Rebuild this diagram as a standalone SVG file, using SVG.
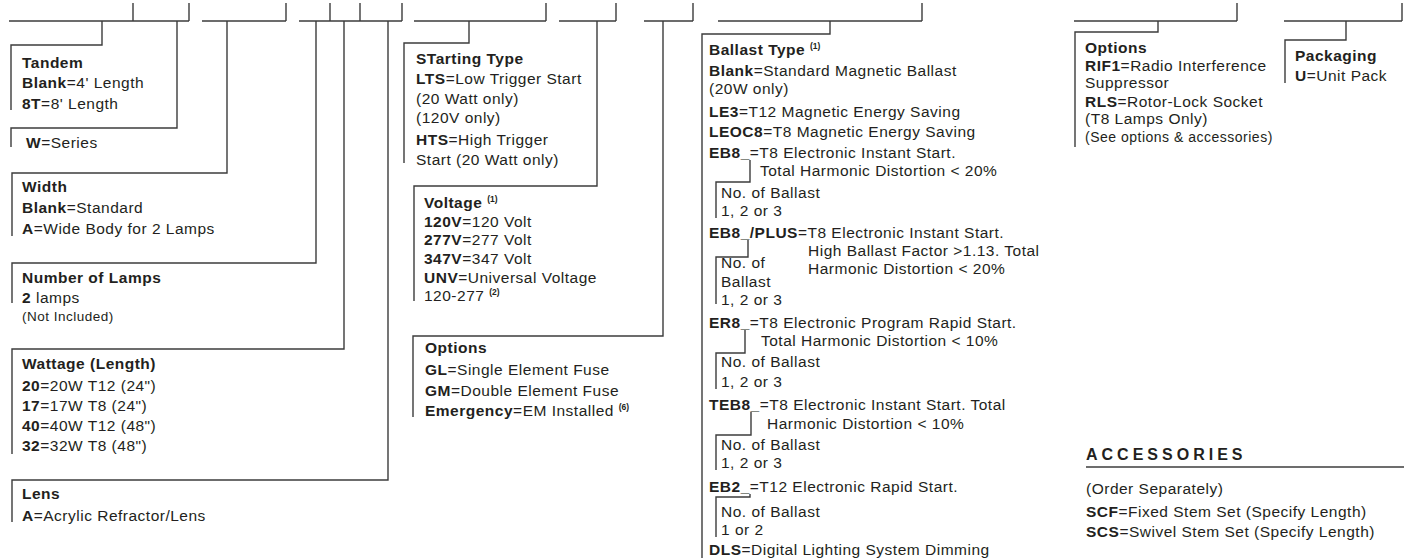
<svg xmlns="http://www.w3.org/2000/svg" width="1404" height="560" viewBox="0 0 1404 560">
<style>
.t{font-family:"Liberation Sans",Arial,Helvetica,sans-serif;font-size:15.5px;letter-spacing:0.5px;fill:#231f20}
.b{font-weight:bold}
.s{font-size:13.5px}
.sup{font-size:8.5px;font-weight:bold;letter-spacing:0}
.ln{fill:none;stroke:#3c3c3c;stroke-width:1.4}
.acc{font-size:16px;font-weight:bold;letter-spacing:4px}
</style>
<rect width="1404" height="560" fill="#ffffff"/>
<g id="connectors" class="ln">
<path d="M9,21 H189 M133,3 V21 M189,3 V21"/>
<path d="M102,21 V45 H11 V110"/>
<path d="M177,21 V128 H11 V147"/>
<path d="M202,21 H286 M286,3 V21"/>
<path d="M227,21 V173 H12 V236"/>
<path d="M299,21 H402 M330,3 V21 M360,3 V21 M402,3 V21"/>
<path d="M316,21 V263 H12 V303"/>
<path d="M344,21 V349 H12 V454"/>
<path d="M388,21 V480 H12 V522"/>
<path d="M414,21 H546 M546,3 V21"/>
<path d="M469,21 V43 H404 V163"/>
<path d="M559,21 H616 M616,3 V21"/>
<path d="M597,21 V186 H414 V301"/>
<path d="M644,21 H693 M693,3 V21"/>
<path d="M663,21 V336 H413 V417"/>
<path d="M718,21 H922 M922,3 V21"/>
<path d="M830,21 V34 H702 V558"/>
<path d="M1074,21 H1237 M1237,3 V21"/>
<path d="M1158,21 V32 H1075 V147"/>
<path d="M1284,21 H1402 M1402,3 V21"/>
<path d="M1346,21 V40 H1285 V83"/>
<path d="M750,160 V182 H716 V218"/>
<path d="M748,240 V257 H716 V304"/>
<path d="M745,330 V353 H716 V389"/>
<path d="M751,412 V435 H716 V470"/>
<path d="M750,494 V497 H716 V537"/>
<path d="M1086,467 H1404"/>
</g>
<g id="tandem" class="t">
<text x="22" y="68" class="b">Tandem</text>
<text x="22" y="88"><tspan class="b">Blank</tspan>=4' Length</text>
<text x="22" y="109"><tspan class="b">8T</tspan>=8' Length</text>
</g>
<g id="series" class="t">
<text x="26" y="148"><tspan class="b">W</tspan>=Series</text>
</g>
<g id="width" class="t">
<text x="22" y="192" class="b">Width</text>
<text x="22" y="213"><tspan class="b">Blank</tspan>=Standard</text>
<text x="22" y="234"><tspan class="b">A</tspan>=Wide Body for 2 Lamps</text>
</g>
<g id="lamps" class="t">
<text x="22" y="283" class="b">Number of Lamps</text>
<text x="22" y="303"><tspan class="b">2</tspan> lamps</text>
<text x="22" y="321" class="s">(Not Included)</text>
</g>
<g id="wattage" class="t">
<text x="22" y="369" class="b">Wattage (Length)</text>
<text x="22" y="391"><tspan class="b">20</tspan>=20W T12 (24")</text>
<text x="22" y="411"><tspan class="b">17</tspan>=17W T8 (24")</text>
<text x="22" y="431"><tspan class="b">40</tspan>=40W T12 (48")</text>
<text x="22" y="451"><tspan class="b">32</tspan>=32W T8 (48")</text>
</g>
<g id="lens" class="t">
<text x="22" y="499" class="b">Lens</text>
<text x="22" y="521"><tspan class="b">A</tspan>=Acrylic Refractor/Lens</text>
</g>
<g id="starting" class="t">
<text x="416" y="64" class="b">STarting Type</text>
<text x="416" y="84"><tspan class="b">LTS</tspan>=Low Trigger Start</text>
<text x="416" y="104">(20 Watt only)</text>
<text x="416" y="123">(120V only)</text>
<text x="416" y="145"><tspan class="b">HTS</tspan>=High Trigger</text>
<text x="416" y="165">Start (20 Watt only)</text>
</g>
<g id="voltage" class="t">
<text x="424" y="208"><tspan class="b">Voltage</tspan> <tspan class="sup" dy="-6">(1)</tspan></text>
<text x="424" y="227"><tspan class="b">120V</tspan>=120 Volt</text>
<text x="424" y="245"><tspan class="b">277V</tspan>=277 Volt</text>
<text x="424" y="264"><tspan class="b">347V</tspan>=347 Volt</text>
<text x="424" y="283"><tspan class="b">UNV</tspan>=Universal Voltage</text>
<text x="424" y="301">120-277 <tspan class="sup" dy="-6">(2)</tspan></text>
</g>
<g id="options-fuse" class="t">
<text x="425" y="353" class="b">Options</text>
<text x="425" y="375"><tspan class="b">GL</tspan>=Single Element Fuse</text>
<text x="425" y="396"><tspan class="b">GM</tspan>=Double Element Fuse</text>
<text x="425" y="416"><tspan class="b">Emergency</tspan>=EM Installed <tspan class="sup" dy="-6">(6)</tspan></text>
</g>
<g id="ballast" class="t">
<text x="709" y="55"><tspan class="b">Ballast Type</tspan> <tspan class="sup" dy="-6">(1)</tspan></text>
<text x="709" y="76"><tspan class="b">Blank</tspan>=Standard Magnetic Ballast</text>
<text x="709" y="94">(20W only)</text>
<text x="709" y="117"><tspan class="b">LE3</tspan>=T12 Magnetic Energy Saving</text>
<text x="709" y="137"><tspan class="b">LEOC8</tspan>=T8 Magnetic Energy Saving</text>
<text x="709" y="158"><tspan class="b">EB8_</tspan>=T8 Electronic Instant Start.</text>
<text x="760" y="176">Total Harmonic  Distortion &lt; 20%</text>
<text x="721" y="198">No. of Ballast</text>
<text x="721" y="216">1, 2 or 3</text>
<text x="709" y="238"><tspan class="b">EB8_/PLUS</tspan>=T8 Electronic Instant Start.</text>
<text x="808" y="256">High Ballast Factor &gt;1.13. Total</text>
<text x="721" y="268">No. of</text>
<text x="808" y="274">Harmonic  Distortion &lt; 20%</text>
<text x="721" y="287">Ballast</text>
<text x="721" y="305">1, 2 or 3</text>
<text x="709" y="328"><tspan class="b">ER8_</tspan>=T8 Electronic Program Rapid Start.</text>
<text x="761" y="346">Total Harmonic Distortion &lt; 10%</text>
<text x="721" y="367">No. of Ballast</text>
<text x="721" y="387">1, 2 or 3</text>
<text x="709" y="410"><tspan class="b">TEB8_</tspan>=T8 Electronic Instant Start. Total</text>
<text x="767" y="429">Harmonic Distortion &lt; 10%</text>
<text x="721" y="450">No. of Ballast</text>
<text x="721" y="468">1, 2 or 3</text>
<text x="709" y="492"><tspan class="b">EB2_</tspan>=T12 Electronic Rapid Start.</text>
<text x="721" y="517">No. of Ballast</text>
<text x="721" y="535">1 or 2</text>
<text x="709" y="555"><tspan class="b">DLS</tspan>=Digital Lighting System Dimming</text>
</g>
<g id="options" class="t">
<text x="1085" y="53" class="b">Options</text>
<text x="1085" y="71"><tspan class="b">RIF1</tspan>=Radio Interference</text>
<text x="1085" y="88">Suppressor</text>
<text x="1085" y="107"><tspan class="b">RLS</tspan>=Rotor-Lock Socket</text>
<text x="1085" y="124">(T8 Lamps Only)</text>
<text x="1085" y="142" style="font-size:14px">(See options &amp; accessories)</text>
</g>
<g id="packaging" class="t">
<text x="1295" y="61" class="b">Packaging</text>
<text x="1295" y="81"><tspan class="b">U</tspan>=Unit Pack</text>
</g>
<g id="accessories" class="t">
<text x="1086" y="460" class="acc">ACCESSORIES</text>
<text x="1086" y="494">(Order Separately)</text>
<text x="1086" y="517"><tspan class="b">SCF</tspan>=Fixed Stem Set (Specify Length)</text>
<text x="1086" y="537"><tspan class="b">SCS</tspan>=Swivel Stem Set (Specify Length)</text>
</g>
</svg>
